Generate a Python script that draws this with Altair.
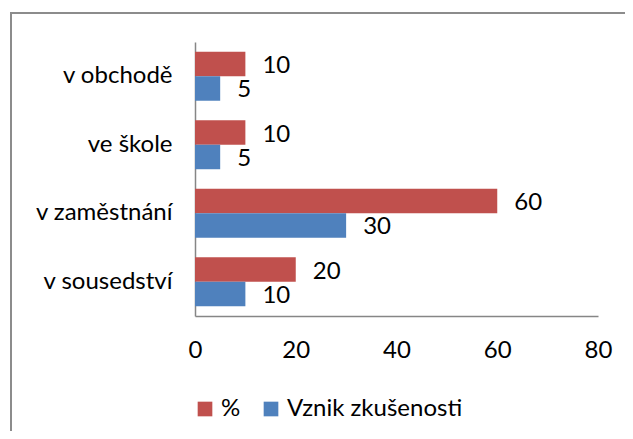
import altair as alt
import pandas as pd

categories = ["v obchodě", "ve škole", "v zaměstnání", "v sousedství"]
series = ["%", "Vznik zkušenosti"]
pct_values = [10, 10, 60, 20]
vznik_values = [5, 5, 30, 10]
x_ticks = [0, 20, 40, 60, 80]

rows = []
for c, p, v in zip(categories, pct_values, vznik_values):
    rows.append({"kategorie": c, "serie": series[0], "hodnota": p})
    rows.append({"kategorie": c, "serie": series[1], "hodnota": v})
df = pd.DataFrame(rows)

FONT = "Lato"
FS = 24
GRAY = "#868686"

y_enc = alt.Y("kategorie:N", sort=categories, title=None,
              scale=alt.Scale(paddingInner=0.285, paddingOuter=0.1425),
              axis=alt.Axis(ticks=False, domainColor=GRAY, domainWidth=1.5,
                            labelFontSize=FS, labelFont=FONT, labelColor="#000",
                            labelPadding=23, labelLimit=0))
yoff = alt.YOffset("serie:N", sort=series, scale=alt.Scale(paddingInner=0, paddingOuter=0))
color = alt.Color("serie:N", sort=series,
                  scale=alt.Scale(domain=series, range=["#C0504D", "#4F81BD"]),
                  legend=alt.Legend(title=None, orient="none", direction="horizontal",
                                    legendX=-2, legendY=355, symbolType="square",
                                    symbolSize=215, symbolStrokeWidth=0,
                                    labelFontSize=FS, labelFont=FONT, labelColor="#000",
                                    labelOffset=4, columnPadding=18, padding=0,
                                    labelLimit=0))

bars = alt.Chart(df).mark_bar().encode(
    x=alt.X("hodnota:Q", title=None,
            scale=alt.Scale(domain=[0, 80]),
            axis=alt.Axis(values=x_ticks, ticks=False, grid=False, domainColor=GRAY,
                          domainWidth=1.5, labelFontSize=FS, labelFont=FONT,
                          labelColor="#000", labelPadding=22, labelFlush=False)),
    y=y_enc,
    yOffset=yoff,
    color=color,
)

labels = alt.Chart(df).mark_text(align="left", baseline="middle", dx=17, dy=2,
                                 fontSize=FS, font=FONT, color="#000").encode(
    x="hodnota:Q",
    y=alt.Y("kategorie:N", sort=categories),
    yOffset=yoff,
    text="hodnota:Q",
)

border = alt.Chart(pd.DataFrame({"a": [0]})).mark_rect(
    fill=None, stroke="#8c8c8c", strokeWidth=2).encode(
    x=alt.value(-184), x2=alt.value(460), y=alt.value(-29), y2=alt.value(420))

chart = (border + bars + labels).properties(
    width=403, height=274,
    autosize=alt.AutoSizeParams(type="none"),
    padding={"left": 187, "top": 34, "right": 27, "bottom": 115},
).configure_view(stroke=None).configure_axisY(domain=True)

chart.save("out.html", embed_options={"renderer": "svg", "actions": False})
